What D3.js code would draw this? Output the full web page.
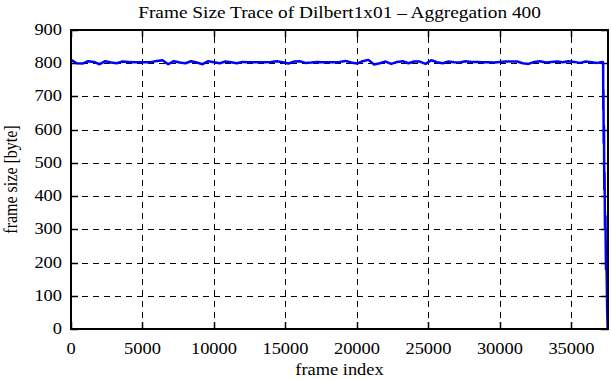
<!DOCTYPE html>
<html>
<head>
<meta charset="utf-8">
<script src="https://cdn.jsdelivr.net/npm/d3@7"></script>
<style>
  body { margin: 0; background: #fff; }
  svg text { font-family: "Liberation Serif", "Times New Roman", serif; fill: #000; }
</style>
</head>
<body>
<svg id="chart" width="611" height="380"></svg>
<script>
// ---- data ----
const chartTitle = "Frame Size Trace of Dilbert1x01 \u2013 Aggregation 400";
const xLabel = "frame index";
const yLabel = "frame size [byte]";
const xTicks = [0, 5000, 10000, 15000, 20000, 25000, 30000, 35000];
const yTicks = [0, 100, 200, 300, 400, 500, 600, 700, 800, 900];
const xMax = 37560;
// aggregated frame size, one value per 400 frames (frame index = i*400)
const aggValues = [
  810, 800, 799, 806, 804, 797, 806, 802, 800, 805,
  804, 803, 803, 803, 803, 807, 809, 797, 806, 802,
  800, 806, 802, 797, 806, 803, 800, 805, 803, 800,
  804, 803, 803, 803, 803, 804, 806, 803, 799, 805,
  806, 801, 802, 804, 803, 803, 803, 804, 807, 802,
  799, 806, 810, 796, 800, 805, 798, 804, 806, 800,
  805, 805, 798, 809, 803, 800, 805, 803, 802, 806,
  804, 804, 803, 803, 802, 804, 805, 805, 805, 800,
  798, 804, 806, 802, 804, 805, 803, 806, 804, 801,
  805, 803, 801, 804
];
// final frames where the trace drops to zero
const tailFrames = [37220, 37230, 37240, 37260, 37280, 37300, 37320, 37350, 37380, 37420, 37450, 37500, 37540];
const tailValues = [800, 660, 720, 560, 610, 420, 470, 300, 340, 180, 220, 60, 0];

const series = aggValues.map((v, i) => ({x: i * 400, y: v}))
  .concat(tailFrames.map((f, i) => ({x: f, y: tailValues[i]})));

// ---- layout ----
const L = 71, R = 608, T = 30, B = 329;
const SX = 1.15; // horizontal text stretch
const svg = d3.select("#chart");
const x = d3.scaleLinear().domain([0, xMax]).range([L, R]);
const y = d3.scaleLinear().domain([0, 900]).range([B, T]);

// grid
const grid = svg.append("g").attr("stroke", "#000").attr("stroke-width", 1)
  .attr("stroke-dasharray", "6,5").attr("fill", "none");
xTicks.filter(t => t > 0).forEach(t => {
  grid.append("line").attr("x1", Math.round(x(t)) + 0.5).attr("x2", Math.round(x(t)) + 0.5)
    .attr("y1", B).attr("y2", T);
});
yTicks.filter(t => t > 0 && t < 900).forEach(t => {
  grid.append("line").attr("y1", Math.round(y(t)) + 0.5).attr("y2", Math.round(y(t)) + 0.5)
    .attr("x1", L).attr("x2", R);
});

// ticks (inward, mirrored)
const tk = svg.append("g").attr("stroke", "#000").attr("stroke-width", 1.5);
xTicks.forEach(t => {
  const px = Math.round(x(t)) + 0.5;
  tk.append("line").attr("x1", px).attr("x2", px).attr("y1", B).attr("y2", B - 7);
  tk.append("line").attr("x1", px).attr("x2", px).attr("y1", T).attr("y2", T + 7);
});
yTicks.forEach(t => {
  const py = Math.round(y(t)) + 0.5;
  tk.append("line").attr("x1", L).attr("x2", L + 7).attr("y1", py).attr("y2", py);
  tk.append("line").attr("x1", R).attr("x2", R - 7).attr("y1", py).attr("y2", py);
});

// data line
const line = d3.line().x(d => x(d.x)).y(d => y(d.y));
svg.append("path").datum(series).attr("d", line)
  .attr("fill", "none").attr("stroke", "#0000ff").attr("stroke-width", 2.5)
  .attr("stroke-linejoin", "round");

// border
svg.append("rect").attr("x", L).attr("y", T).attr("width", R - L).attr("height", B - T)
  .attr("fill", "none").attr("stroke", "#000").attr("stroke-width", 2);

// tick labels
function txt(xp, yp, s, anchor, size, rot) {
  svg.append("text")
    .attr("transform", `translate(${xp},${yp}) scale(${SX},1)` + (rot ? ` rotate(${rot})` : ""))
    .attr("text-anchor", anchor).attr("font-size", size).text(s);
}
xTicks.forEach(t => txt(x(t), 354, d3.format("d")(t), "middle", 16));
yTicks.forEach(t => txt(L - 9, y(t) + 5, d3.format("d")(t), "end", 16));

txt((L + R) / 2, 18, chartTitle, "middle", 16.8);
txt((L + R) / 2, 375, xLabel, "middle", 16);
txt(17, (T + B) / 2, yLabel, "middle", 16, -90);
</script>
</body>
</html>
